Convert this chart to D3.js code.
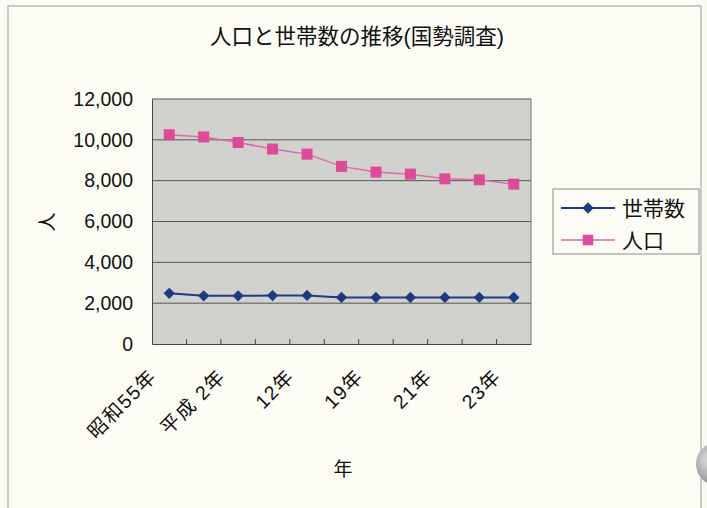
<!DOCTYPE html>
<html lang="ja">
<head>
<meta charset="UTF-8">
<script src="https://d3js.org/d3.v7.min.js"></script>
<style>
  body { margin: 0; background: #fbfbf3; }
  svg { display: block; }
  text { font-family: "Liberation Sans", "Noto Sans CJK JP", sans-serif; fill: #111; }
</style>
</head>
<body>
<div id="chart"></div>
<script>
const years = ["昭和55年", "60年", "平成 2年", "7年", "12年", "17年", "19年", "20年", "21年", "22年", "23年"];
const households = [2480, 2360, 2360, 2370, 2380, 2280, 2280, 2280, 2280, 2280, 2280];
const population = [10250, 10140, 9870, 9550, 9300, 8700, 8420, 8320, 8090, 8040, 7830];
const yTicks = [0, 2000, 4000, 6000, 8000, 10000, 12000];
const shownLabels = ["昭和55年", "平成 2年", "12年", "19年", "21年", "23年"];

const W = 707, H = 508;
const plot = {left: 152, right: 531, top: 99, bottom: 344};

const svg = d3.select("#chart").append("svg")
  .attr("width", W).attr("height", H);

// chart frame
svg.append("rect")
  .attr("x", 8).attr("y", 6).attr("width", 693).attr("height", 510)
  .attr("fill", "#fcfcf4").attr("stroke", "#9a9a9a").attr("stroke-width", 1);

const x = d3.scaleBand().domain(years).range([plot.left, plot.right]);
const y = d3.scaleLinear().domain([0, 12000]).range([plot.bottom, plot.top]);

// plot background
svg.append("rect")
  .attr("x", plot.left).attr("y", plot.top)
  .attr("width", plot.right - plot.left).attr("height", plot.bottom - plot.top)
  .attr("fill", "#d1d1ce");

// gridlines
svg.append("g").selectAll("line")
  .data(yTicks.slice(1))
  .join("line")
  .attr("x1", plot.left).attr("x2", plot.right)
  .attr("y1", d => y(d)).attr("y2", d => y(d))
  .attr("stroke", "#555").attr("stroke-width", 1);

// right border
svg.append("line")
  .attr("x1", plot.right).attr("x2", plot.right)
  .attr("y1", plot.top).attr("y2", plot.bottom)
  .attr("stroke", "#777").attr("stroke-width", 1);

// y axis
const yAxis = svg.append("g")
  .attr("transform", `translate(${plot.left},0)`)
  .call(d3.axisLeft(y).tickValues(yTicks).tickSize(0).tickPadding(19)
    .tickFormat(d3.format(",")));
yAxis.select(".domain").attr("stroke", "#444");
yAxis.selectAll("text")
  .attr("font-size", 19.5)
  .attr("font-family", "Liberation Sans, sans-serif")
  .attr("fill", "#111");

// x axis
const xAxis = svg.append("g")
  .attr("transform", `translate(0,${plot.bottom})`)
  .call(d3.axisBottom(x).tickSize(0).tickFormat(""));
xAxis.select(".domain").attr("stroke", "#444");

// tick marks between categories, pointing inward
svg.append("g").selectAll("line")
  .data(years.slice(1))
  .join("line")
  .attr("x1", d => x(d)).attr("x2", d => x(d))
  .attr("y1", plot.bottom).attr("y2", plot.bottom - 5)
  .attr("stroke", "#444");

// rotated category labels
svg.append("g").selectAll("text")
  .data(shownLabels)
  .join("text")
  .attr("transform", d => `translate(${x(d) + x.bandwidth() / 2 - 21},${plot.bottom + 24}) rotate(-45)`)
  .attr("text-anchor", "end")
  .attr("dy", "0.7em")
  .attr("font-size", 19.5)
  .attr("letter-spacing", 1.5)
  .text(d => d);

const line = d3.line()
  .x((d, i) => x(years[i]) + x.bandwidth() / 2)
  .y(d => y(d));

// population series
svg.append("path")
  .datum(population)
  .attr("d", line)
  .attr("fill", "none")
  .attr("stroke", "#e06aa8")
  .attr("stroke-width", 1.5);

svg.append("g").selectAll("rect")
  .data(population)
  .join("rect")
  .attr("x", (d, i) => x(years[i]) + x.bandwidth() / 2 - 5.5)
  .attr("y", d => y(d) - 5.5)
  .attr("width", 11).attr("height", 11)
  .attr("fill", "#dc4a98");

// household series
svg.append("path")
  .datum(households)
  .attr("d", line)
  .attr("fill", "none")
  .attr("stroke", "#1f3a86")
  .attr("stroke-width", 2);

svg.append("g").selectAll("path")
  .data(households)
  .join("path")
  .attr("transform", (d, i) => `translate(${x(years[i]) + x.bandwidth() / 2},${y(d)}) rotate(45)`)
  .attr("d", d3.symbol().type(d3.symbolSquare).size(64))
  .attr("fill", "#1b3a82");

// title
svg.append("text")
  .attr("x", 357).attr("y", 44)
  .attr("text-anchor", "middle")
  .attr("font-size", 21.5)
  .attr("font-family", "Noto Sans CJK JP, sans-serif")
  .text("人口と世帯数の推移(国勢調査)");

// axis titles
svg.append("g")
  .attr("transform", "translate(47,222)")
  .append("text")
  .attr("transform", "rotate(-90)")
  .attr("text-anchor", "middle")
  .attr("dy", "0.35em")
  .attr("font-size", 19)
  .attr("font-family", "Noto Sans CJK JP, sans-serif")
  .text("人");

svg.append("text")
  .attr("x", 343).attr("y", 476)
  .attr("text-anchor", "middle")
  .attr("font-size", 19)
  .attr("font-family", "Noto Sans CJK JP, sans-serif")
  .text("年");

// legend
const legend = svg.append("g").attr("transform", "translate(553,189)");
legend.append("rect")
  .attr("width", 146).attr("height", 65)
  .attr("fill", "#fcfcf4").attr("stroke", "#8a8a8a");

const legendItems = [
  {name: "世帯数", color: "#1f3a86", mark: "#1b3a82", shape: "diamond"},
  {name: "人口", color: "#e06aa8", mark: "#dc4a98", shape: "square"}
];
const li = legend.selectAll("g.item")
  .data(legendItems)
  .join("g")
  .attr("class", "item")
  .attr("transform", (d, i) => `translate(0,${19 + i * 32})`);
li.append("line")
  .attr("x1", 8).attr("x2", 62)
  .attr("stroke", d => d.color).attr("stroke-width", d => d.shape === "diamond" ? 2 : 1.5);
li.append("path")
  .attr("transform", d => `translate(35,0) rotate(${d.shape === "diamond" ? 45 : 0})`)
  .attr("d", d => d3.symbol().type(d3.symbolSquare).size(d.shape === "diamond" ? 64 : 110)())
  .attr("fill", d => d.mark);
li.append("text")
  .attr("x", 69)
  .attr("dy", "0.36em")
  .attr("font-size", 21)
  .attr("font-family", "Noto Sans CJK JP, sans-serif")
  .text(d => d.name);

// scanner shadow at the right edge
const grad = svg.append("defs").append("radialGradient")
  .attr("id", "dot").attr("cx", "35%").attr("cy", "40%");
grad.append("stop").attr("offset", "0%").attr("stop-color", "#e8e8e8");
grad.append("stop").attr("offset", "100%").attr("stop-color", "#9c9c9c");
svg.append("circle")
  .attr("cx", 718).attr("cy", 464).attr("r", 22)
  .attr("fill", "url(#dot)");
</script>
</body>
</html>
